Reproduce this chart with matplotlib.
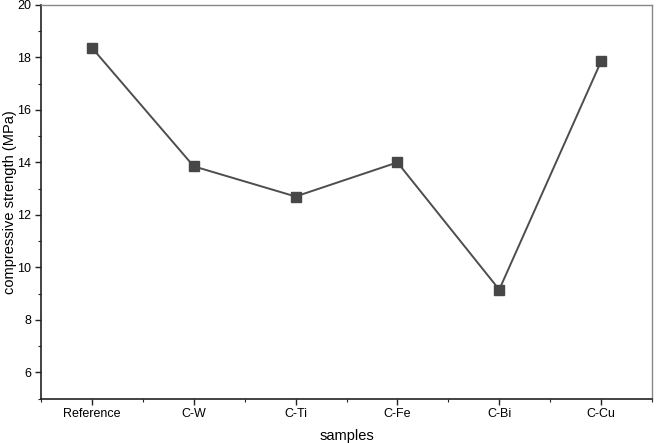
import matplotlib.pyplot as plt
from matplotlib.ticker import MultipleLocator, FixedLocator

plt.rcParams['font.family'] = ['Liberation Sans', 'DejaVu Sans']

samples = ["Reference", "C-W", "C-Ti", "C-Fe", "C-Bi", "C-Cu"]
strength = [18.37, 13.85, 12.7, 14.0, 9.15, 17.85]

fig = plt.figure(figsize=(6.56, 4.43), dpi=100)
ax = fig.add_axes([41 / 656, 1 - 398.5 / 443, (652 - 41) / 656, (398.5 - 5) / 443])

x = list(range(len(samples)))
ax.plot(x, strength, color='#4d4d4d', lw=1.4, marker='s', ms=6.5,
        markerfacecolor='#474747', markeredgecolor='#474747')

ax.set_xlim(-0.5, 5.5)
ax.set_ylim(5, 20)
ax.set_xticks(x)
ax.set_xticklabels(samples)
ax.xaxis.set_minor_locator(FixedLocator([i + 0.5 for i in range(-1, 6)]))
ax.yaxis.set_minor_locator(MultipleLocator(1))
ax.set_yticks(range(6, 21, 2))

ax.tick_params(axis='both', which='major', direction='out', length=4, width=1,
               labelsize=9, color='#222222', pad=3)
ax.tick_params(axis='both', which='minor', direction='out', length=2.5, width=0.8,
               color='#222222')
ax.tick_params(axis='y', right=False)
ax.tick_params(axis='x', top=False)

for side in ['left', 'bottom']:
    ax.spines[side].set_color('#222222')
    ax.spines[side].set_linewidth(1.2)
for side in ['top', 'right']:
    ax.spines[side].set_color('#888888')
    ax.spines[side].set_linewidth(1.0)

ax.set_xlabel("samples", fontsize=10.5, labelpad=6)
ax.set_ylabel("compressive strength (MPa)", fontsize=10.5, labelpad=0)

fig.savefig("out.png", dpi=100)
